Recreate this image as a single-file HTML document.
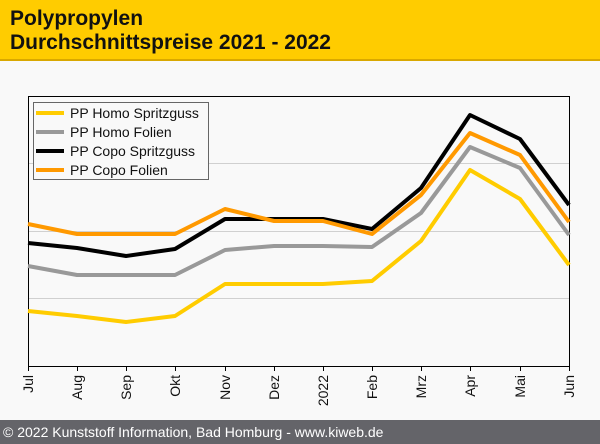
<!DOCTYPE html>
<html><head><meta charset="utf-8"><style>
body{margin:0;width:600px;height:444px;background:#f9f9f9;font-family:"Liberation Sans",Arial,sans-serif;position:relative;overflow:hidden}
.hdr{position:absolute;left:0;top:0;width:600px;height:59px;background:#ffcc00;border-bottom:2px solid #d9a800}
.hdr div{position:absolute;left:10px;font-weight:bold;font-size:21px;color:#111}
.ftr{position:absolute;left:0;top:420px;width:600px;height:24px;background:#646469;color:#fff;font-size:14px;line-height:24px;padding-left:3px}
</style></head><body>
<div class="hdr"><div style="top:7px">Polypropylen</div><div style="top:31px">Durchschnittspreise 2021 - 2022</div></div>
<svg style="position:absolute;left:0;top:0" width="600" height="444">
<g stroke="#d0d0d0" stroke-width="1"><line x1="28" y1="163.5" x2="569" y2="163.5"/><line x1="28" y1="231.5" x2="569" y2="231.5"/><line x1="28" y1="298.5" x2="569" y2="298.5"/></g>
<rect x="28.5" y="96.5" width="541" height="270" fill="none" stroke="#000"/>
<g stroke="#000">
<line x1="28.5" y1="366" x2="28.5" y2="371"/><line x1="77.5" y1="366" x2="77.5" y2="371"/><line x1="126.5" y1="366" x2="126.5" y2="371"/><line x1="175.5" y1="366" x2="175.5" y2="371"/><line x1="225.5" y1="366" x2="225.5" y2="371"/><line x1="274.5" y1="366" x2="274.5" y2="371"/><line x1="323.5" y1="366" x2="323.5" y2="371"/><line x1="372.5" y1="366" x2="372.5" y2="371"/><line x1="421.5" y1="366" x2="421.5" y2="371"/><line x1="470.5" y1="366" x2="470.5" y2="371"/><line x1="520.5" y1="366" x2="520.5" y2="371"/><line x1="569.5" y1="366" x2="569.5" y2="371"/>
</g>
<g font-size="14" fill="#111" text-anchor="end">
<text transform="translate(33,375) rotate(-90)">Jul</text>
<text transform="translate(82,375) rotate(-90)">Aug</text>
<text transform="translate(131,375) rotate(-90)">Sep</text>
<text transform="translate(180,375) rotate(-90)">Okt</text>
<text transform="translate(230,375) rotate(-90)">Nov</text>
<text transform="translate(279,375) rotate(-90)">Dez</text>
<text transform="translate(328,375) rotate(-90)">2022</text>
<text transform="translate(377,375) rotate(-90)">Feb</text>
<text transform="translate(426,375) rotate(-90)">Mrz</text>
<text transform="translate(475,375) rotate(-90)">Apr</text>
<text transform="translate(525,375) rotate(-90)">Mai</text>
<text transform="translate(574,375) rotate(-90)">Jun</text>
</g>
<g fill="none" stroke-width="4" stroke-linejoin="round">
<polyline stroke="#ffcc00" points="28,311 77,316 126,322 175,316 225,284 274,284 323,284 372,281 421,241 470,170 520,199 569,265"/>
<polyline stroke="#999" points="28,266 77,275 126,275 175,275 225,250 274,246 323,246 372,247 421,213 470,147 520,168 569,235"/>
<polyline stroke="#000" points="28,243 77,248 126,256 175,249 225,219 274,219 323,219 372,229 421,188 470,115 520,139 569,205"/>
<polyline stroke="#ff9900" points="28,224 77,234 126,234 175,234 225,209 274,221 323,221 372,234 421,195 470,133 520,155 569,222"/>
</g>
<rect x="33.5" y="102.5" width="175" height="77" fill="#f9f9f9" stroke="#666"/>
<g stroke-width="4"><line x1="36" y1="113" x2="64" y2="113" stroke="#ffcc00"/><line x1="36" y1="132" x2="64" y2="132" stroke="#999"/><line x1="36" y1="151" x2="64" y2="151" stroke="#000"/><line x1="36" y1="170" x2="64" y2="170" stroke="#ff9900"/></g>
<g font-size="14" fill="#111"><text x="70" y="118">PP Homo Spritzguss</text><text x="70" y="137">PP Homo Folien</text><text x="70" y="156">PP Copo Spritzguss</text><text x="70" y="175">PP Copo Folien</text></g>
</svg>
<div class="ftr">© 2022 Kunststoff Information, Bad Homburg - www.kiweb.de</div>
</body></html>
